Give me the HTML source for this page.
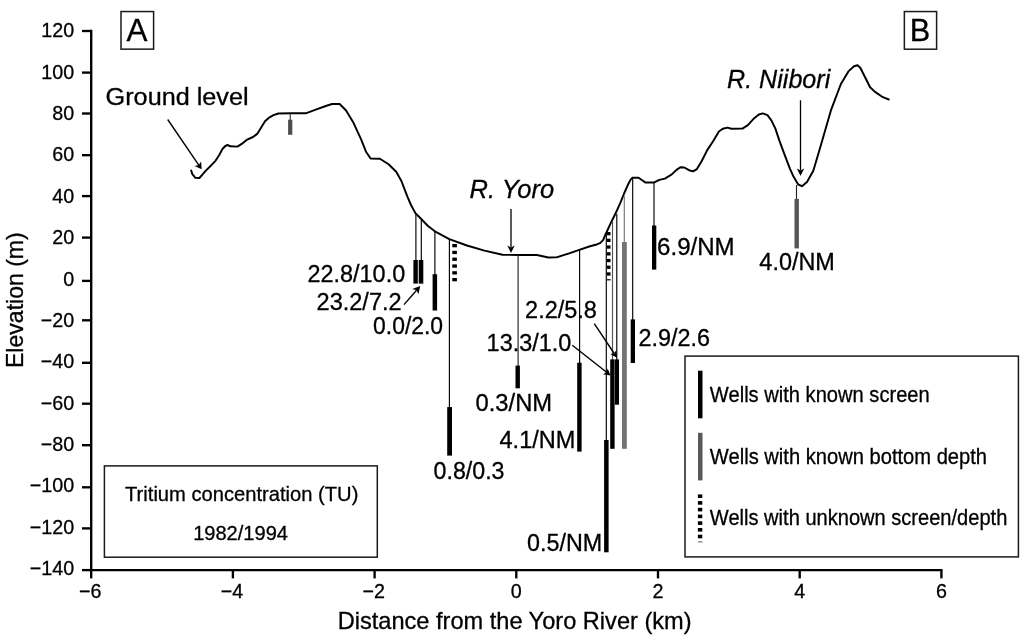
<!DOCTYPE html>
<html lang="en"><head><meta charset="utf-8"><title>Cross section A-B: tritium concentration in wells</title>
<style>
html,body{margin:0;padding:0;background:#fff;}
body{width:1024px;height:637px;overflow:hidden;}
svg{display:block;}
svg text{font-family:"Liberation Sans",sans-serif;fill:#000;stroke:#000;stroke-width:0.3px;}
</style></head><body>
<svg width="1024" height="637" viewBox="0 0 1024 637">
<rect width="1024" height="637" fill="#fff"/>
<g stroke="#000" stroke-width="2.35" fill="none">
<path d="M91.2 29.8V570.1H942.5"/>
<path d="M82.0 31.00H91.2"/>
<path d="M82.0 72.60H91.2"/>
<path d="M82.0 113.50H91.2"/>
<path d="M82.0 155.20H91.2"/>
<path d="M82.0 196.10H91.2"/>
<path d="M82.0 237.60H91.2"/>
<path d="M82.0 280.90H91.2"/>
<path d="M82.0 320.30H91.2"/>
<path d="M82.0 362.80H91.2"/>
<path d="M82.0 403.70H91.2"/>
<path d="M82.0 445.20H91.2"/>
<path d="M82.0 487.30H91.2"/>
<path d="M82.0 528.40H91.2"/>
<path d="M82.0 570.10H91.2"/>
<path d="M91.2 570.1V578.4"/>
<path d="M232.9 570.1V578.4"/>
<path d="M374.6 570.1V578.4"/>
<path d="M516.3 570.1V578.4"/>
<path d="M658.0 570.1V578.4"/>
<path d="M799.7 570.1V578.4"/>
<path d="M941.4 570.1V578.4"/>
</g>
<path d="M191.2 170.6 L192.4 174.2 L195.2 177.7 L199.4 178.0 L202.6 174.4 L205.6 170.9 L211.3 165.2 L215.5 160.8 L219.1 155.2 L222.6 148.8 L225.4 146.0 L227.5 145.0 L230.4 146.3 L237.4 146.6 L241.7 143.9 L246.6 139.9 L253.0 137.0 L257.2 133.9 L260.7 128.3 L265.0 121.3 L269.2 117.6 L273.4 115.2 L278.4 113.5 L290.7 113.3 L305.7 113.3 L315.8 109.7 L325.8 106.0 L332.1 104.0 L339.6 104.0 L345.9 110.3 L353.5 122.8 L361.0 139.1 L366.0 151.7 L370.6 158.5 L379.9 158.7 L388.6 164.3 L396.2 171.8 L401.4 181.0 L407.5 196.9 L411.0 205.0 L415.4 213.1 L420.5 218.3 L427.7 225.7 L434.9 231.3 L449.3 239.2 L466.9 245.5 L484.5 250.6 L502.5 254.8 L518.4 255.0 L537.0 255.0 L548.4 257.5 L556.5 257.4 L569.9 253.1 L580.0 249.6 L590.0 246.3 L595.7 244.8 L600.4 242.8 L603.2 239.8 L605.5 234.5 L611.2 222.2 L616.1 212.3 L620.4 202.6 L623.9 194.0 L628.2 184.2 L630.6 179.6 L632.2 177.8 L638.6 177.8 L641.8 180.0 L645.3 182.4 L654.3 182.4 L659.3 179.9 L664.9 178.6 L671.8 174.4 L676.5 169.9 L680.4 167.3 L684.3 167.5 L689.0 170.2 L693.0 171.4 L696.9 169.1 L701.6 161.2 L707.1 150.4 L713.4 140.8 L718.9 131.5 L722.8 128.7 L727.5 127.6 L731.4 128.7 L742.4 128.6 L747.9 125.1 L754.2 118.2 L758.9 114.5 L762.8 113.4 L767.5 115.2 L771.5 120.6 L775.4 128.6 L779.3 140.4 L784.0 153.2 L790.0 168.8 L793.2 175.9 L798.2 184.5 L802.0 186.2 L807.0 182.0 L813.3 170.7 L820.8 145.5 L830.9 110.4 L840.9 84.0 L848.4 71.4 L854.0 66.3 L857.5 65.2 L860.3 67.7 L865.2 77.5 L870.1 87.3 L875.0 91.9 L882.9 97.2 L888.8 99.5" fill="none" stroke="#000" stroke-width="1.95" stroke-linejoin="round" stroke-linecap="round"/>
<path d="M415.9 213.0V261.0" stroke="#000" stroke-width="1.15" fill="none"/>
<path d="M421.3 220.0V261.0" stroke="#000" stroke-width="1.15" fill="none"/>
<path d="M434.9 232.0V275.0" stroke="#000" stroke-width="1.15" fill="none"/>
<path d="M449.4 239.0V408.0" stroke="#000" stroke-width="1.15" fill="none"/>
<path d="M518.1 255.0V366.0" stroke="#222" stroke-width="1.15" fill="none"/>
<path d="M579.6 250.0V363.0" stroke="#000" stroke-width="1.15" fill="none"/>
<path d="M606.3 234.0V441.0" stroke="#000" stroke-width="1.15" fill="none"/>
<path d="M612.5 222.0V360.0" stroke="#555" stroke-width="1.15" fill="none"/>
<path d="M616.8 214.0V360.0" stroke="#000" stroke-width="1.15" fill="none"/>
<path d="M624.3 196.0V243.0" stroke="#777" stroke-width="1.15" fill="none"/>
<path d="M632.7 178.0V320.0" stroke="#000" stroke-width="1.15" fill="none"/>
<path d="M654.0 183.0V226.0" stroke="#000" stroke-width="1.15" fill="none"/>
<path d="M290.2 113.5V120.0" stroke="#333" stroke-width="1.15" fill="none"/>
<path d="M796.5 185.0V199.0" stroke="#222" stroke-width="1.15" fill="none"/>
<rect x="413.4" y="260.0" width="4.4" height="23.6" fill="#000"/>
<rect x="418.7" y="260.0" width="4.6" height="23.6" fill="#000"/>
<rect x="432.6" y="274.2" width="4.5" height="36.3" fill="#000"/>
<rect x="447.2" y="407.1" width="4.8" height="48.5" fill="#000"/>
<rect x="515.5" y="365.6" width="4.4" height="22.7" fill="#000"/>
<rect x="577.2" y="362.7" width="4.4" height="88.9" fill="#000"/>
<rect x="604.1" y="440.0" width="4.5" height="112.3" fill="#000"/>
<rect x="610.2" y="359.4" width="4.4" height="89.4" fill="#000"/>
<rect x="614.9" y="359.4" width="4.1" height="45.3" fill="#000"/>
<rect x="622.0" y="242.0" width="4.8" height="206.8" fill="#747474"/>
<rect x="630.7" y="319.4" width="4.3" height="43.6" fill="#000"/>
<rect x="652.0" y="225.5" width="4.3" height="44.1" fill="#000"/>
<rect x="794.5" y="198.9" width="4.4" height="49.5" fill="#555"/>
<rect x="288.1" y="119.7" width="4.2" height="15.1" fill="#4d4d4d"/>
<rect x="698.0" y="370.7" width="4.5" height="47.6" fill="#000"/>
<rect x="698.0" y="432.8" width="4.5" height="47.6" fill="#595959"/>
<rect x="452.3" y="244.0" width="4.6" height="3.3" fill="#000"/>
<rect x="452.3" y="250.8" width="4.6" height="3.3" fill="#000"/>
<rect x="452.3" y="257.6" width="4.6" height="3.3" fill="#000"/>
<rect x="452.3" y="264.4" width="4.6" height="3.3" fill="#000"/>
<rect x="452.3" y="271.2" width="4.6" height="3.3" fill="#000"/>
<rect x="452.3" y="278.0" width="4.6" height="3.3" fill="#000"/>
<rect x="606.7" y="232.0" width="3.8" height="3.3" fill="#000"/>
<rect x="606.7" y="238.7" width="3.8" height="3.3" fill="#000"/>
<rect x="606.7" y="245.4" width="3.8" height="3.3" fill="#000"/>
<rect x="606.7" y="252.2" width="3.8" height="3.3" fill="#000"/>
<rect x="606.7" y="258.9" width="3.8" height="3.3" fill="#000"/>
<rect x="606.7" y="265.6" width="3.8" height="3.3" fill="#000"/>
<rect x="606.7" y="272.3" width="3.8" height="3.3" fill="#000"/>
<rect x="606.8" y="279.2" width="3.8" height="1.2" fill="#000"/>
<rect x="697.9" y="494.4" width="4.4" height="3.6" fill="#000"/>
<rect x="697.9" y="501.1" width="4.4" height="3.6" fill="#000"/>
<rect x="697.9" y="507.8" width="4.4" height="3.6" fill="#000"/>
<rect x="697.9" y="514.6" width="4.4" height="3.6" fill="#000"/>
<rect x="697.9" y="521.3" width="4.4" height="3.6" fill="#000"/>
<rect x="697.9" y="528.0" width="4.4" height="3.6" fill="#000"/>
<rect x="697.9" y="534.7" width="4.4" height="3.6" fill="#000"/>
<rect x="698" y="541.3" width="4.4" height="1.1" fill="#666"/>
<g fill="none" stroke="#1a1a1a" stroke-width="1.5">
<rect x="121.0" y="11.55" width="32.6" height="37.6"/>
<rect x="904.35" y="11.55" width="32.25" height="37.65"/>
<rect x="104.4" y="465.9" width="272.9" height="91.3"/>
<rect x="685.0" y="356.1" width="333.4" height="200.8"/>
</g>
<path d="M167.7 119.5L198.8 165.1" stroke="#000" stroke-width="1.4" fill="none"/>
<path d="M201.7 169.3L194.6 165.9L198.8 165.1L201.1 161.5Z" fill="#000"/>
<path d="M511.0 208.9L511.0 247.4" stroke="#000" stroke-width="1.3" fill="none"/>
<path d="M511.0 253.0L507.3 245.6L511.0 247.4L514.7 245.6Z" fill="#000"/>
<path d="M800.5 100.3L800.5 170.4" stroke="#000" stroke-width="1.3" fill="none"/>
<path d="M800.5 176.0L796.8 168.6L800.5 170.4L804.2 168.6Z" fill="#000"/>
<path d="M404.0 304.6L416.6 290.2" stroke="#000" stroke-width="1.4" fill="none"/>
<path d="M420.2 286.0L418.4 294.2L416.6 290.2L412.3 289.0Z" fill="#000"/>
<path d="M572.3 345.3L606.6 372.3" stroke="#000" stroke-width="1.4" fill="none"/>
<path d="M610.6 375.5L603.0 374.2L606.6 372.3L607.6 368.4Z" fill="#000"/>
<path d="M594.3 323.7L614.2 353.5" stroke="#000" stroke-width="1.4" fill="none"/>
<path d="M617.0 357.7L610.1 354.1L614.2 353.5L616.3 350.0Z" fill="#000"/>
<text id="tA" x="126.48" y="41.45" font-size="31.60" textLength="20.95" lengthAdjust="spacingAndGlyphs">A</text>
<text id="tB" x="909.78" y="41.45" font-size="31.60" textLength="20.46" lengthAdjust="spacingAndGlyphs">B</text>
<text id="tGL" x="105.64" y="105.20" font-size="23.00" textLength="142.92" lengthAdjust="spacingAndGlyphs">Ground level</text>
<text id="tRY" x="469.54" y="197.80" font-size="26.40" font-style="italic" textLength="84.65" lengthAdjust="spacingAndGlyphs">R. Yoro</text>
<text id="tRN" x="727.06" y="88.20" font-size="26.40" font-style="italic" textLength="103.17" lengthAdjust="spacingAndGlyphs">R. Niibori</text>
<text id="d1" x="307.56" y="281.90" font-size="23.00" textLength="97.60" lengthAdjust="spacingAndGlyphs">22.8/10.0</text>
<text id="d2" x="316.56" y="310.10" font-size="23.00" textLength="85.05" lengthAdjust="spacingAndGlyphs">23.2/7.2</text>
<text id="d3" x="373.04" y="333.90" font-size="23.00" textLength="70.07" lengthAdjust="spacingAndGlyphs">0.0/2.0</text>
<text id="d4" x="433.54" y="478.80" font-size="23.00" textLength="70.95" lengthAdjust="spacingAndGlyphs">0.8/0.3</text>
<text id="d5" x="475.56" y="410.80" font-size="23.00" textLength="76.60" lengthAdjust="spacingAndGlyphs">0.3/NM</text>
<text id="d6" x="499.52" y="448.40" font-size="23.00" textLength="75.86" lengthAdjust="spacingAndGlyphs">4.1/NM</text>
<text id="d7" x="486.64" y="351.30" font-size="23.00" textLength="84.65" lengthAdjust="spacingAndGlyphs">13.3/1.0</text>
<text id="d8" x="525.14" y="318.10" font-size="23.00" textLength="71.74" lengthAdjust="spacingAndGlyphs">2.2/5.8</text>
<text id="d9" x="638.58" y="346.30" font-size="23.00" textLength="71.50" lengthAdjust="spacingAndGlyphs">2.9/2.6</text>
<text id="d10" x="527.08" y="550.80" font-size="23.00" textLength="75.12" lengthAdjust="spacingAndGlyphs">0.5/NM</text>
<text id="d11" x="657.08" y="254.60" font-size="23.00" textLength="77.61" lengthAdjust="spacingAndGlyphs">6.9/NM</text>
<text id="d12" x="759.36" y="269.60" font-size="23.00" textLength="75.49" lengthAdjust="spacingAndGlyphs">4.0/NM</text>
<text id="l1" x="709.86" y="402.00" font-size="21.50" textLength="219.83" lengthAdjust="spacingAndGlyphs">Wells with known screen</text>
<text id="l2" x="709.86" y="463.90" font-size="21.50" textLength="277.21" lengthAdjust="spacingAndGlyphs">Wells with known bottom depth</text>
<text id="l3" x="709.86" y="525.20" font-size="21.50" textLength="297.44" lengthAdjust="spacingAndGlyphs">Wells with unknown screen/depth</text>
<text id="tr1" x="125.04" y="500.60" font-size="20.80" textLength="233.34" lengthAdjust="spacingAndGlyphs">Tritium concentration (TU)</text>
<text id="tr2" x="193.14" y="540.20" font-size="20.80" textLength="94.88" lengthAdjust="spacingAndGlyphs">1982/1994</text>
<text id="xl" x="337.72" y="629.30" font-size="23.80" textLength="353.82" lengthAdjust="spacingAndGlyphs">Distance from the Yoro River (km)</text>
<text id="yt0" x="74.20" y="37.30" font-size="19.70" text-anchor="end">120</text>
<text id="yt1" x="74.20" y="78.68" font-size="19.70" text-anchor="end">100</text>
<text id="yt2" x="74.20" y="120.06" font-size="19.70" text-anchor="end">80</text>
<text id="yt3" x="74.20" y="161.44" font-size="19.70" text-anchor="end">60</text>
<text id="yt4" x="74.20" y="202.82" font-size="19.70" text-anchor="end">40</text>
<text id="yt5" x="74.20" y="244.20" font-size="19.70" text-anchor="end">20</text>
<text id="yt6" x="74.20" y="285.58" font-size="19.70" text-anchor="end">0</text>
<text id="yt7" x="74.20" y="326.96" font-size="19.70" text-anchor="end">−20</text>
<text id="yt8" x="74.20" y="368.34" font-size="19.70" text-anchor="end">−40</text>
<text id="yt9" x="74.20" y="409.72" font-size="19.70" text-anchor="end">−60</text>
<text id="yt10" x="74.20" y="451.10" font-size="19.70" text-anchor="end">−80</text>
<text id="yt11" x="74.20" y="492.48" font-size="19.70" text-anchor="end">−100</text>
<text id="yt12" x="74.20" y="533.86" font-size="19.70" text-anchor="end">−120</text>
<text id="yt13" x="74.20" y="575.24" font-size="19.70" text-anchor="end">−140</text>
<text id="xt0" x="90.30" y="597.90" font-size="19.70" text-anchor="middle">−6</text>
<text id="xt1" x="232.00" y="597.90" font-size="19.70" text-anchor="middle">−4</text>
<text id="xt2" x="373.70" y="597.90" font-size="19.70" text-anchor="middle">−2</text>
<text id="xt3" x="516.30" y="597.90" font-size="19.70" text-anchor="middle">0</text>
<text id="xt4" x="658.00" y="597.90" font-size="19.70" text-anchor="middle">2</text>
<text id="xt5" x="799.70" y="597.90" font-size="19.70" text-anchor="middle">4</text>
<text id="xt6" x="941.40" y="597.90" font-size="19.70" text-anchor="middle">6</text>
<text id="yl" transform="translate(23.30 368.00) rotate(-90)" font-size="23.8" textLength="135.74" lengthAdjust="spacingAndGlyphs">Elevation (m)</text>
</svg>
</body></html>
